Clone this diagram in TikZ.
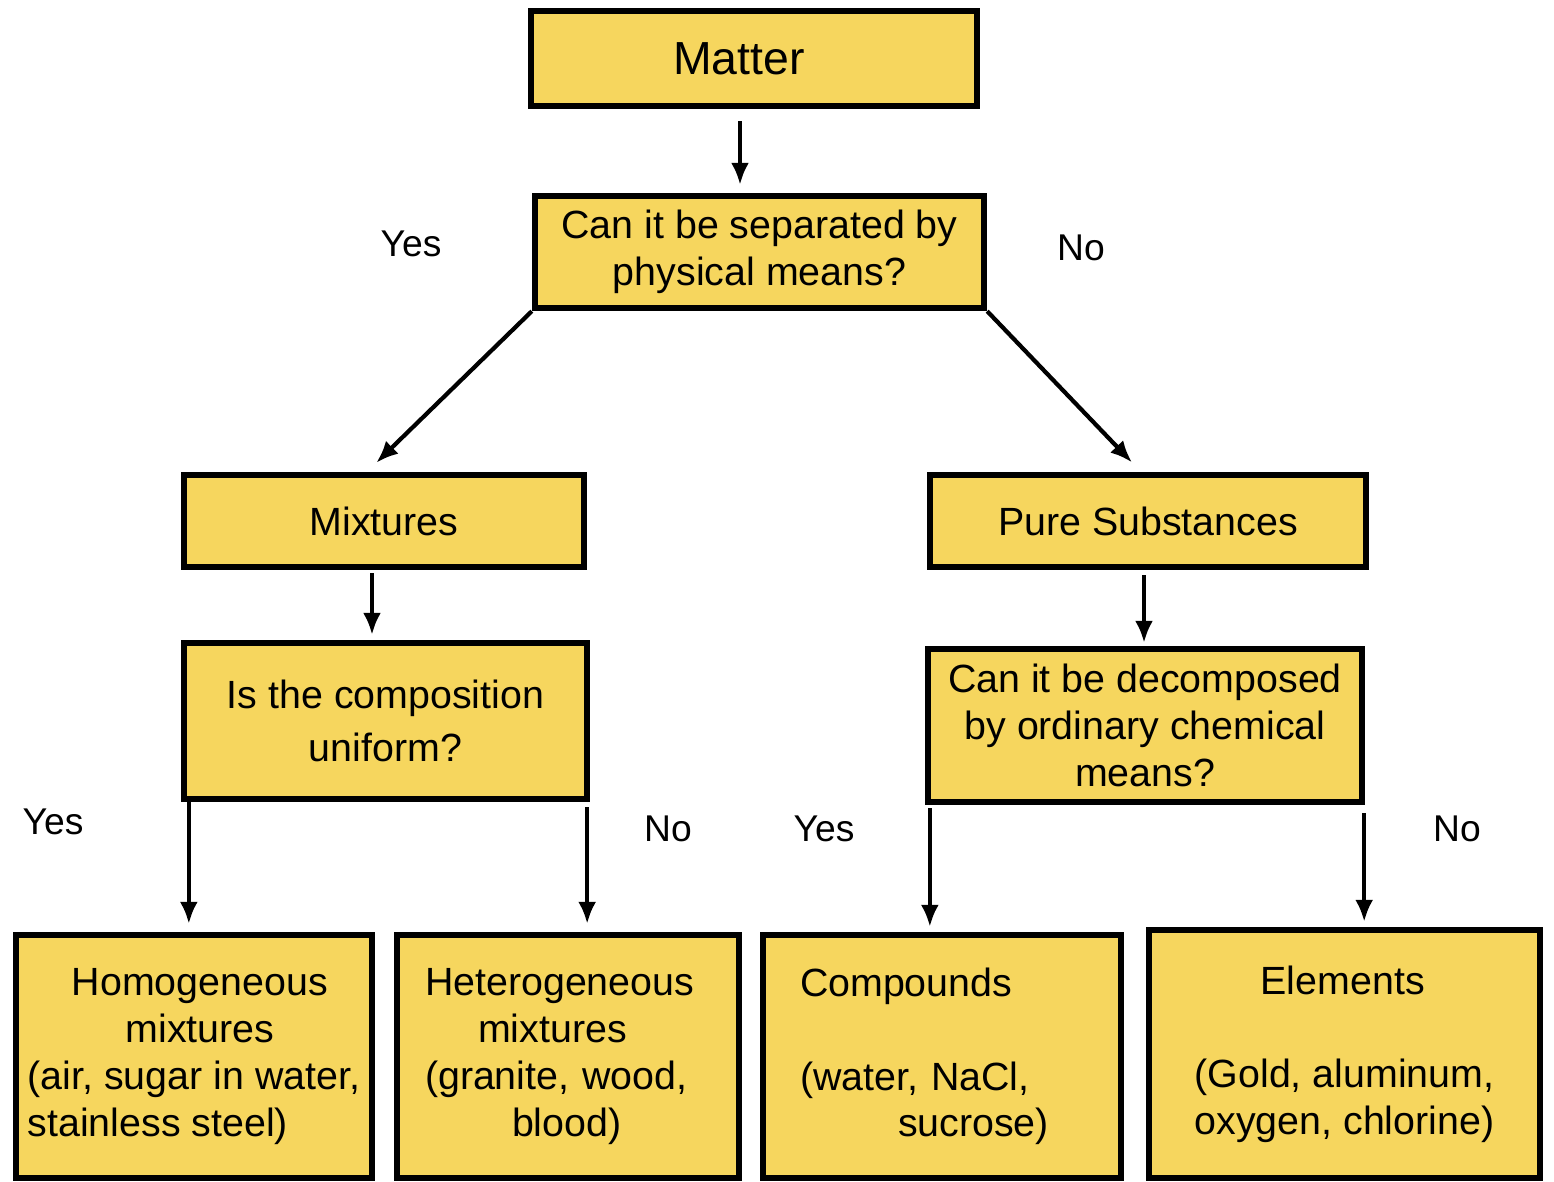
\documentclass[tikz,border=0pt]{standalone}
\usepackage{fontspec}
\setmainfont{Liberation Sans}
\usetikzlibrary{calc,arrows.meta}
\definecolor{boxyellow}{RGB}{246,214,94}

\begin{document}
\begin{tikzpicture}[
    box/.style={draw,line width=1.8pt,fill=boxyellow,inner sep=2pt,font=\fontsize{11.2}{13.3}\selectfont},
    arr/.style={line width=1.2pt,-{Latex[length=2.2mm,width=1.8mm]}},
    lbl/.style={font=\fontsize{10.6}{12}\selectfont}]
            \useasboundingbox (0,0) rectangle (15.54,-11.81);

            \node[box,minimum width=4.46cm,minimum height=0.95cm,font=\fontsize{13.2}{15}\selectfont] (matter) at (7.54,-0.585) {Matter\hspace*{0.3cm}};
            \node[box,minimum width=4.49cm,minimum height=1.12cm,align=center] (sep) at (7.595,-2.52) {Can it be separated by\\physical means?};
            \node[box,minimum width=4.0cm,minimum height=0.92cm] (mix) at (3.84,-5.21) {Mixtures};
            \node[box,minimum width=4.36cm,minimum height=0.92cm] (pure) at (11.48,-5.21) {Pure Substances};
            \node[box,minimum width=4.03cm,minimum height=1.56cm,align=center,font=\fontsize{11.2}{15}\selectfont] (unif) at (3.855,-7.21) {Is the composition\\uniform?};
            \node[box,minimum width=4.34cm,minimum height=1.53cm,align=center] (decomp) at (11.45,-7.255) {Can it be decomposed\\by ordinary chemical\\means?};

            \node[box,minimum width=3.56cm,minimum height=2.43cm,align=left] (homog) at (1.94,-10.565)
                {\hspace*{0.44cm}Homogeneous\\\hspace*{0.98cm}mixtures\\(air, sugar in water,\\stainless steel)};
            \node[box,minimum width=3.42cm,minimum height=2.43cm,text width=2.86cm,align=left] (heterog) at (5.68,-10.565)
                {Heterogeneous\\\hspace*{0.53cm}mixtures\\(granite, wood,\\\hspace*{0.87cm}blood)};
            \node[box,minimum width=3.58cm,minimum height=2.43cm,text width=2.84cm,align=left] (comp) at (9.42,-10.565)
                {Compounds\\\mbox{}\\(water, NaCl,\\\hspace*{0.98cm}sucrose)};
            \node[box,minimum width=3.91cm,minimum height=2.48cm,align=left] (elem) at (13.445,-10.54)
                {\hspace*{0.66cm}Elements\\\mbox{}\\(Gold, aluminum,\\oxygen, chlorine)};

            \foreach \n/\t/\x/\y in {yesa/Yes/4.11/-2.44,noa/No/10.81/-2.48,yesb/Yes/0.53/-8.22,nob/No/6.68/-8.29,yesc/Yes/8.24/-8.29,noc/No/14.57/-8.29} {
            \node[lbl] (\n) at (\x,\y) {\t};}

            \draw[arr,shorten <=0.12cm,shorten >=0.08cm] ([xshift=-0.14cm]matter.south) -- ([xshift=-0.14cm]matter.south |- sep.north);
            \draw[arr,shorten >=0.13cm] (sep.south west) -- ([xshift=-0.17cm]mix.north);
            \draw[arr,shorten >=0.13cm] (sep.south east) -- ([xshift=-0.07cm]pure.north);
            \draw[arr,shorten <=0.03cm,shorten >=0.05cm] ([xshift=-0.12cm]mix.south) -- ([xshift=-0.12cm]mix.south |- unif.north);
            \draw[arr,shorten <=0.05cm,shorten >=0.03cm] ([xshift=-0.04cm]pure.south) -- ([xshift=-0.04cm]pure.south |- decomp.north);
            \draw[arr,shorten >=0.08cm] ([xshift=0.08cm]unif.south west) -- ([xshift=0.08cm]unif.south west |- homog.north);
            \draw[arr,shorten <=0.05cm,shorten >=0.08cm] ([xshift=-0.03cm]unif.south east) -- ([xshift=-0.03cm]unif.south east |- heterog.north);
            \draw[arr,shorten <=0.03cm,shorten >=0.05cm] ([xshift=0.05cm]decomp.south west) -- ([xshift=0.05cm]decomp.south west |- comp.north);
            \draw[arr,shorten <=0.08cm,shorten >=0.05cm] ([xshift=-0.01cm]decomp.south east) -- ([xshift=-0.01cm]decomp.south east |- elem.north);
        \end{tikzpicture}
\end{document}
